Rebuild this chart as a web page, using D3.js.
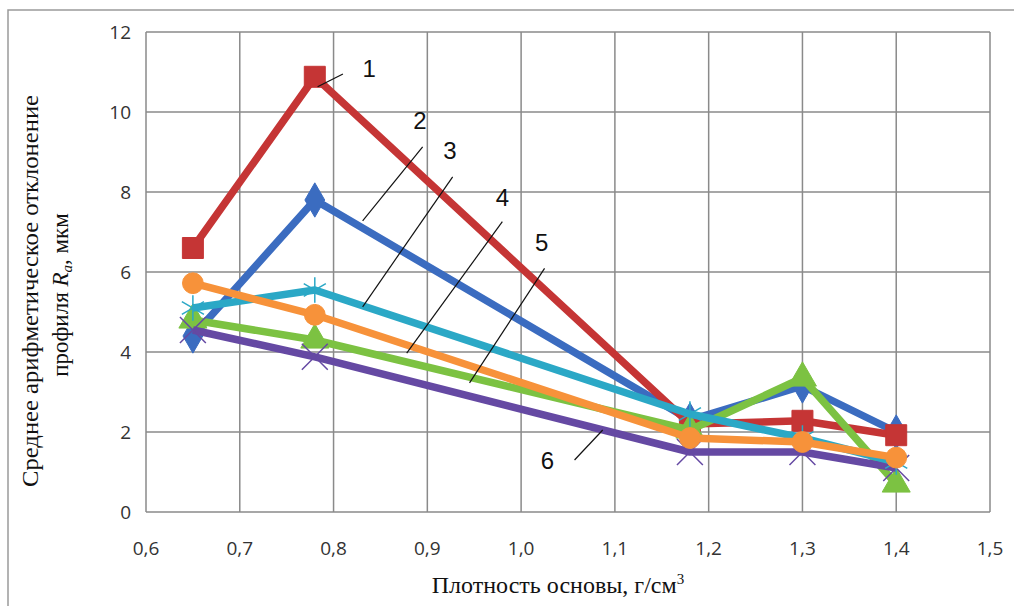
<!DOCTYPE html>
<html>
<head>
<meta charset="utf-8">
<script src="https://cdn.jsdelivr.net/npm/d3@7"></script>
<style>
  html, body { margin: 0; padding: 0; background: #fff; }
  svg { display: block; }
</style>
</head>
<body>
<svg id="chart" width="1014" height="606"></svg>
<script>
// ---- data ----
const densities = [0.65, 0.78, 1.18, 1.3, 1.4];
const curve1 = [6.6, 10.88, 2.2, 2.28, 1.92];  // red squares
const curve2 = [4.4, 7.8, 2.3, 3.15, 2.0];     // blue diamonds
const curve3 = [5.1, 5.55, 2.45, 1.85, 1.25];  // cyan asterisks
const curve4 = [5.72, 4.93, 1.85, 1.75, 1.36]; // orange circles
const curve5 = [4.8, 4.3, 2.05, 3.35, 0.7];    // green triangles
const curve6 = [4.55, 3.88, 1.5, 1.5, 1.1];    // purple crosses
const xTicks = [0.6, 0.7, 0.8, 0.9, 1.0, 1.1, 1.2, 1.3, 1.4, 1.5];
const yTicks = [0, 2, 4, 6, 8, 10, 12];
const curveNames = ["1", "2", "3", "4", "5", "6"];
// label anchor positions (data units) and leader line ends
const labelX = [0.838, 0.892, 0.924, 0.980, 1.022, 1.028];
const labelY = [11.1, 9.8, 9.05, 7.88, 6.75, 1.3];
const leadX1 = [0.810, 0.895, 0.927, 0.980, 1.025, 1.057];
const leadY1 = [10.95, 9.13, 8.38, 7.26, 6.09, 1.3];
const leadX2 = [0.783, 0.831, 0.831, 0.878, 0.945, 1.087];
const leadY2 = [10.63, 7.28, 5.13, 3.97, 3.23, 2.05];

// ---- layout ----
const svg = d3.select("#chart");
const x = d3.scaleLinear().domain([0.6, 1.5]).range([146, 990]);
const y = d3.scaleLinear().domain([0, 12]).range([512, 32]);

// outer frame
svg.append("path").attr("d", "M8,606 L8,10 L1014,10")
  .attr("fill", "none").attr("stroke", "#9a9a9a").attr("stroke-width", 1.5);

// gridlines
const grid = svg.append("g");
grid.selectAll("line.v").data(xTicks).enter().append("line")
  .attr("x1", d => x(d)).attr("x2", d => x(d))
  .attr("y1", y(0)).attr("y2", y(12))
  .attr("stroke", "#8a8a8a").attr("stroke-width", 1.5);
grid.selectAll("line.h").data(yTicks).enter().append("line")
  .attr("x1", x(0.6)).attr("x2", x(1.5))
  .attr("y1", d => y(d)).attr("y2", d => y(d))
  .attr("stroke", "#8a8a8a").attr("stroke-width", 1.5);

// axes tick labels
const fmt = d => d3.format(".1f")(d).replace(".", ",");
svg.append("g").selectAll("text").data(xTicks).enter().append("text")
  .attr("x", d => x(d)).attr("y", 555)
  .attr("text-anchor", "middle")
  .attr("font-family", "'Open Sans', 'Noto Sans', sans-serif")
  .attr("font-size", 19).attr("fill", "#333")
  .text(fmt);
svg.append("g").selectAll("text").data(yTicks).enter().append("text")
  .attr("x", 131).attr("y", d => y(d) + 7)
  .attr("text-anchor", "end")
  .attr("font-family", "'Open Sans', 'Noto Sans', sans-serif")
  .attr("font-size", 19).attr("fill", "#333")
  .text(d => d);

// axis titles
const xt = svg.append("text").attr("x", 558).attr("y", 593)
  .attr("text-anchor", "middle")
  .attr("font-family", "'Liberation Serif', 'Times New Roman', serif")
  .attr("font-size", 24).attr("fill", "#111");
xt.append("tspan").text("Плотность основы, г/см");
xt.append("tspan").attr("font-size", 15).attr("dy", -9).text("3");

const yt = svg.append("g").attr("transform", "translate(0,291) rotate(-90)")
  .attr("font-family", "'Liberation Serif', 'Times New Roman', serif")
  .attr("font-size", 23).attr("fill", "#111").attr("text-anchor", "middle");
yt.append("text").attr("x", 0).attr("y", 38)
  .attr("textLength", 392).attr("lengthAdjust", "spacingAndGlyphs")
  .text("Среднее арифметическое отклонение");
const yt2 = yt.append("text").attr("x", -4).attr("y", 68);
yt2.append("tspan").text("профиля ");
yt2.append("tspan").attr("font-style", "italic").text("R");
yt2.append("tspan").attr("font-style", "italic").attr("font-size", 15).attr("dy", 4).text("a");
yt2.append("tspan").attr("dy", -4).text(", мкм");

// ---- series ----
const series = [
  { values: curve2, color: "#3b6cc0", symbol: d3.symbolDiamond, size: 340, filled: true },
  { values: curve1, color: "#c53535", symbol: d3.symbolSquare, size: 440, filled: true },
  { values: curve5, color: "#7cc242", symbol: d3.symbolTriangle, size: 340, filled: true },
  { values: curve6, color: "#6549a3", symbol: d3.symbolX, size: 440, filled: false },
  { values: curve3, color: "#2ba8c6", symbol: d3.symbolAsterisk, size: 460, filled: false },
  { values: curve4, color: "#f7923a", symbol: d3.symbolCircle, size: 340, filled: true }
];

const line = d3.line().x(d => x(d[0])).y(d => y(d[1]));
series.forEach(s => {
  const pts = densities.map((d, i) => [d, s.values[i]]);
  const g = svg.append("g");
  g.append("path").attr("d", line(pts))
    .attr("fill", "none").attr("stroke", s.color)
    .attr("stroke-width", 7.5).attr("stroke-linejoin", "round");
  g.selectAll("path.m").data(pts).enter().append("path")
    .attr("transform", d => `translate(${x(d[0])},${y(d[1])})`)
    .attr("d", d3.symbol().type(s.symbol).size(s.size))
    .attr("fill", s.filled ? s.color : "none")
    .attr("stroke", s.color)
    .attr("stroke-width", s.filled ? 1 : 1.5);
});

// ---- curve labels with leader lines ----
const ann = svg.append("g");
curveNames.forEach((n, i) => {
  ann.append("line")
    .attr("x1", x(leadX1[i])).attr("y1", y(leadY1[i]))
    .attr("x2", x(leadX2[i])).attr("y2", y(leadY2[i]))
    .attr("stroke", "#111").attr("stroke-width", 1.2);
  ann.append("text")
    .attr("x", x(labelX[i])).attr("y", y(labelY[i]) + 9)
    .attr("text-anchor", "middle")
    .attr("font-family", "'Liberation Sans', Arial, sans-serif")
    .attr("font-size", 24).attr("fill", "#111")
    .text(n);
});
</script>
</body>
</html>
